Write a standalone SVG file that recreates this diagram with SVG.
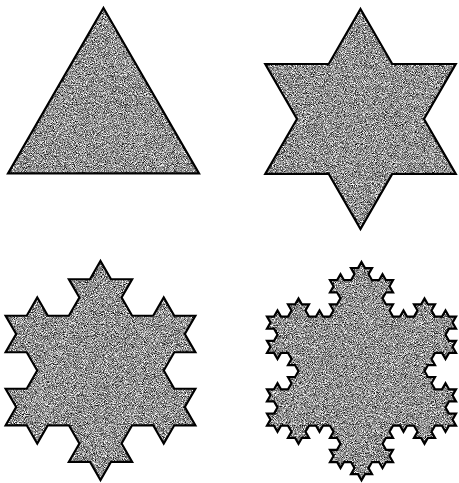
<svg xmlns="http://www.w3.org/2000/svg" xmlns:xlink="http://www.w3.org/1999/xlink" width="459" height="483" viewBox="0 0 459 483">
  <style>
    .fill { fill: #888888; stroke: none; filter: url(#grain); }
    .edge { fill: none; stroke: #000; stroke-width: 2.2; stroke-linejoin: miter; }
    .k { vector-effect: non-scaling-stroke; }
  </style>
  <defs>
    <filter id="grain" filterUnits="userSpaceOnUse" x="0" y="0" width="459" height="483" color-interpolation-filters="sRGB">
      <feTurbulence type="fractalNoise" baseFrequency="1.1" numOctaves="2" seed="7" result="n"/>
      <feColorMatrix in="n" type="matrix" values="1.9 0 0 0 -0.38  1.9 0 0 0 -0.38  1.9 0 0 0 -0.38  0 0 0 0 1" result="g"/>
      <feComposite in="g" in2="SourceGraphic" operator="in"/>
    </filter>
    <path id="k0" class="k" vector-effect="non-scaling-stroke" transform="translate(103.5,8) scale(95.5,165.41)" d="M0 0 l1 1 -2 0 1 -1z"/>
    <path id="k1" class="k" vector-effect="non-scaling-stroke" transform="translate(360.5,9) scale(31.75,54.99)" d="M0 0 l1 1 2 0 -1 1 1 1 -2 0 -1 1 -1 -1 -2 0 1 -1 -1 -1 2 0 1 -1z"/>
    <path id="k2" class="k" vector-effect="non-scaling-stroke" transform="translate(100.5,261) scale(10.54,18.253)" d="M0 0 l1 1 2 0 -1 1 1 1 2 0 1 -1 1 1 2 0 -1 1 1 1 -2 0 -1 1 1 1 2 0 -1 1 1 1 -2 0 -1 1 -1 -1 -2 0 -1 1 1 1 -2 0 -1 1 -1 -1 -2 0 1 -1 -1 -1 -2 0 -1 1 -1 -1 -2 0 1 -1 -1 -1 2 0 1 -1 -1 -1 -2 0 1 -1 -1 -1 2 0 1 -1 1 1 2 0 1 -1 -1 -1 2 0 1 -1z"/>
    <path id="k3" class="k" vector-effect="non-scaling-stroke" transform="translate(361.5,262) scale(3.5,6.062)" d="M0 0 l
1 1 2 0 -1 1 1 1 2 0 1 -1 1 1 2 0 -1 1 1 1 -2 0 -1 1 1 1 2 0 -1 1 1 1
2 0 1 -1 1 1 2 0 1 -1 -1 -1 2 0 1 -1 1 1 2 0 -1 1 1 1 2 0 1 -1 1 1 2 0
-1 1 1 1 -2 0 -1 1 1 1 2 0 -1 1 1 1 -2 0 -1 1 -1 -1 -2 0 -1 1 1 1 -2 0 -1 1
1 1 2 0 -1 1 1 1 2 0 1 -1 1 1 2 0 -1 1 1 1 -2 0 -1 1 1 1 2 0 -1 1 1 1
-2 0 -1 1 -1 -1 -2 0 -1 1 1 1 -2 0 -1 1 -1 -1 -2 0 1 -1 -1 -1 -2 0 -1 1 -1 -1 -2 0
-1 1 1 1 -2 0 -1 1 1 1 2 0 -1 1 1 1 -2 0 -1 1 -1 -1 -2 0 -1 1 1 1 -2 0 -1 1
-1 -1 -2 0 1 -1 -1 -1 -2 0 -1 1 -1 -1 -2 0 1 -1 -1 -1 2 0 1 -1 -1 -1 -2 0 1 -1 -1 -1
-2 0 -1 1 -1 -1 -2 0 -1 1 1 1 -2 0 -1 1 -1 -1 -2 0 1 -1 -1 -1 -2 0 -1 1 -1 -1 -2 0
1 -1 -1 -1 2 0 1 -1 -1 -1 -2 0 1 -1 -1 -1 2 0 1 -1 1 1 2 0 1 -1 -1 -1 2 0 1 -1
-1 -1 -2 0 1 -1 -1 -1 -2 0 -1 1 -1 -1 -2 0 1 -1 -1 -1 2 0 1 -1 -1 -1 -2 0 1 -1 -1 -1
2 0 1 -1 1 1 2 0 1 -1 -1 -1 2 0 1 -1 1 1 2 0 -1 1 1 1 2 0 1 -1 1 1 2 0
1 -1 -1 -1 2 0 1 -1 -1 -1 -2 0 1 -1 -1 -1 2 0 1 -1 1 1 2 0 1 -1 -1 -1 2 0 1 -1z"/>
  </defs>
  <g id="level0">
    <use xlink:href="#k0" class="fill"/>
    <use xlink:href="#k0" class="edge"/>
  </g>
  <g id="level1">
    <use xlink:href="#k1" class="fill"/>
    <use xlink:href="#k1" class="edge"/>
  </g>
  <g id="level2">
    <use xlink:href="#k2" class="fill"/>
    <use xlink:href="#k2" class="edge"/>
  </g>
  <g id="level3">
    <use xlink:href="#k3" class="fill"/>
    <use xlink:href="#k3" class="edge"/>
  </g>
  <g id="connectors"/>
</svg>
